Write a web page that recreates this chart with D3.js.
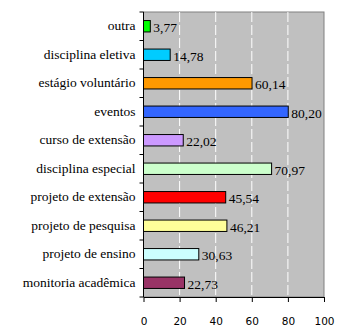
<!DOCTYPE html>
<html>
<head>
<meta charset="utf-8">
<script src="https://cdn.jsdelivr.net/npm/d3@7"></script>
<style>
  html, body { margin: 0; padding: 0; background: #fff; }
  svg { display: block; }
  .serif { font-family: "Liberation Serif", serif; }
</style>
</head>
<body>
<svg id="chart" width="338" height="330"></svg>
<script>
// Activities, listed top to bottom
const categories = [
  "outra", "disciplina eletiva", "estágio voluntário", "eventos",
  "curso de extensão", "disciplina especial", "projeto de extensão",
  "projeto de pesquisa", "projeto de ensino", "monitoria acadêmica"
];
const values = [3.77, 14.78, 60.14, 80.20, 22.02, 70.97, 45.54, 46.21, 30.63, 22.73];
const colors = [
  "#00ff00", "#00ccff", "#ff9900", "#3366ff", "#cc99ff",
  "#ccffcc", "#ff0000", "#ffff99", "#ccffff", "#993366"
];
const xTicks = [0, 20, 40, 60, 80, 100];

const svg = d3.select("#chart");
const m = { left: 143.5, right: 324, top: 12, bottom: 297 };

const x = d3.scaleLinear().domain([0, 100]).range([m.left, m.right]);
const y = d3.scaleBand().domain(categories).range([m.top, m.bottom]).paddingInner(0.6).paddingOuter(0.3);

// plot background
svg.append("rect")
  .attr("x", m.left).attr("y", m.top)
  .attr("width", m.right - m.left).attr("height", m.bottom - m.top)
  .attr("fill", "#c0c0c0")
  .attr("stroke", "#808080").attr("stroke-width", 1);

// vertical gridlines
svg.append("g").selectAll("line")
  .data(xTicks.filter(t => t > 0 && t < 100))
  .join("line")
  .attr("x1", d => x(d)).attr("x2", d => x(d))
  .attr("y1", m.top).attr("y2", m.bottom)
  .attr("stroke", "#ffffff").attr("stroke-width", 1)
  .attr("stroke-dasharray", "10,3");

// bars
svg.append("g").selectAll("rect")
  .data(values)
  .join("rect")
  .attr("x", x(0))
  .attr("y", (d, i) => y(categories[i]))
  .attr("width", d => x(d) - x(0))
  .attr("height", y.bandwidth())
  .attr("fill", (d, i) => colors[i])
  .attr("stroke", "#000").attr("stroke-width", 1);

// value labels
svg.append("g").selectAll("text")
  .data(values)
  .join("text")
  .attr("class", "serif")
  .attr("x", d => x(d) + 3)
  .attr("y", (d, i) => y(categories[i]) + y.bandwidth() / 2)
  .attr("dy", "0.45em")
  .attr("font-size", 13.5)
  .attr("fill", "#000")
  .text(d => d3.format(".2f")(d).replace(".", ","));

// category axis: ticks sit between categories
const yAxis = svg.append("g");
yAxis.append("line")
  .attr("x1", m.left).attr("x2", m.left)
  .attr("y1", m.top).attr("y2", m.bottom)
  .attr("stroke", "#000");
yAxis.selectAll("line.tick")
  .data(d3.range(categories.length + 1))
  .join("line").attr("class", "tick")
  .attr("x1", m.left - 4).attr("x2", m.left)
  .attr("y1", i => m.top + i * (m.bottom - m.top) / categories.length)
  .attr("y2", i => m.top + i * (m.bottom - m.top) / categories.length)
  .attr("stroke", "#000");
yAxis.selectAll("text")
  .data(categories)
  .join("text")
  .attr("class", "serif")
  .attr("x", m.left - 8)
  .attr("y", d => y(d) + y.bandwidth() / 2)
  .attr("dy", "0.3em")
  .attr("text-anchor", "end")
  .attr("font-size", 13.5)
  .attr("fill", "#000")
  .text(d => d);

// value axis
const xAxis = svg.append("g")
  .attr("transform", `translate(0,${m.bottom})`)
  .call(d3.axisBottom(x).tickValues(xTicks).tickSize(5).tickPadding(16).tickSizeOuter(0));
xAxis.select(".domain").attr("stroke", "#000");
xAxis.selectAll(".tick line").attr("stroke", "#000");
xAxis.selectAll("text")
  .attr("font-family", "'DejaVu Sans', sans-serif")
  .attr("font-size", 10.5)
  .attr("fill", "#000");
</script>
</body>
</html>
